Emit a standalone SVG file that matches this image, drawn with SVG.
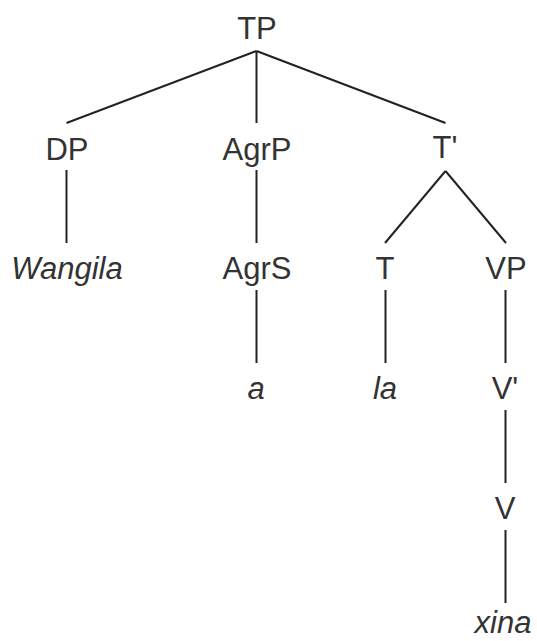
<svg xmlns="http://www.w3.org/2000/svg" width="537" height="641" viewBox="0 0 537 641">
  <style>
    .lbl { font-family: "Liberation Sans", Arial, sans-serif; font-size: 31px; fill: #333333; text-anchor: middle; }
    .it { font-style: italic; }
    .edge { stroke: #222222; stroke-width: 2; fill: none; stroke-linecap: butt; }
  </style>
  <rect width="537" height="641" fill="#ffffff"/>

  <!-- tree branches -->
  <g id="connectors">
    <line class="edge" x1="256.5" y1="51" x2="66.5" y2="123"/>
    <line class="edge" x1="256.5" y1="51" x2="256.5" y2="123"/>
    <line class="edge" x1="256.5" y1="51" x2="445.5" y2="123"/>
    <line class="edge" x1="66.5" y1="170" x2="66.5" y2="243"/>
    <line class="edge" x1="256.5" y1="170" x2="256.5" y2="243"/>
    <line class="edge" x1="445.5" y1="171" x2="385" y2="243"/>
    <line class="edge" x1="445.5" y1="171" x2="506" y2="243"/>
    <line class="edge" x1="256.5" y1="290" x2="256.5" y2="363"/>
    <line class="edge" x1="385.5" y1="290" x2="385.5" y2="363"/>
    <line class="edge" x1="505.5" y1="290" x2="505.5" y2="363"/>
    <line class="edge" x1="505.5" y1="410" x2="505.5" y2="483"/>
    <line class="edge" x1="505.5" y1="530" x2="505.5" y2="603"/>
  </g>

  <!-- nodes -->
  <g id="node-TP"><text class="lbl" x="257" y="39">TP</text></g>
  <g id="node-DP"><text class="lbl" x="67" y="160">DP</text></g>
  <g id="node-AgrP"><text class="lbl" x="257" y="160">AgrP</text></g>
  <g id="node-Tbar"><text class="lbl" x="445" y="158">T'</text></g>
  <g id="node-Wangila"><text class="lbl it" x="67" y="279">Wangila</text></g>
  <g id="node-AgrS"><text class="lbl" x="257" y="279">AgrS</text></g>
  <g id="node-T"><text class="lbl" x="385" y="279">T</text></g>
  <g id="node-VP"><text class="lbl" x="506" y="279">VP</text></g>
  <g id="node-a"><text class="lbl it" x="256" y="399">a</text></g>
  <g id="node-la"><text class="lbl it" x="385" y="399">la</text></g>
  <g id="node-Vbar"><text class="lbl" x="505" y="399">V'</text></g>
  <g id="node-V"><text class="lbl" x="505" y="519">V</text></g>
  <g id="node-xina"><text class="lbl it" x="503" y="633">xina</text></g>
</svg>
